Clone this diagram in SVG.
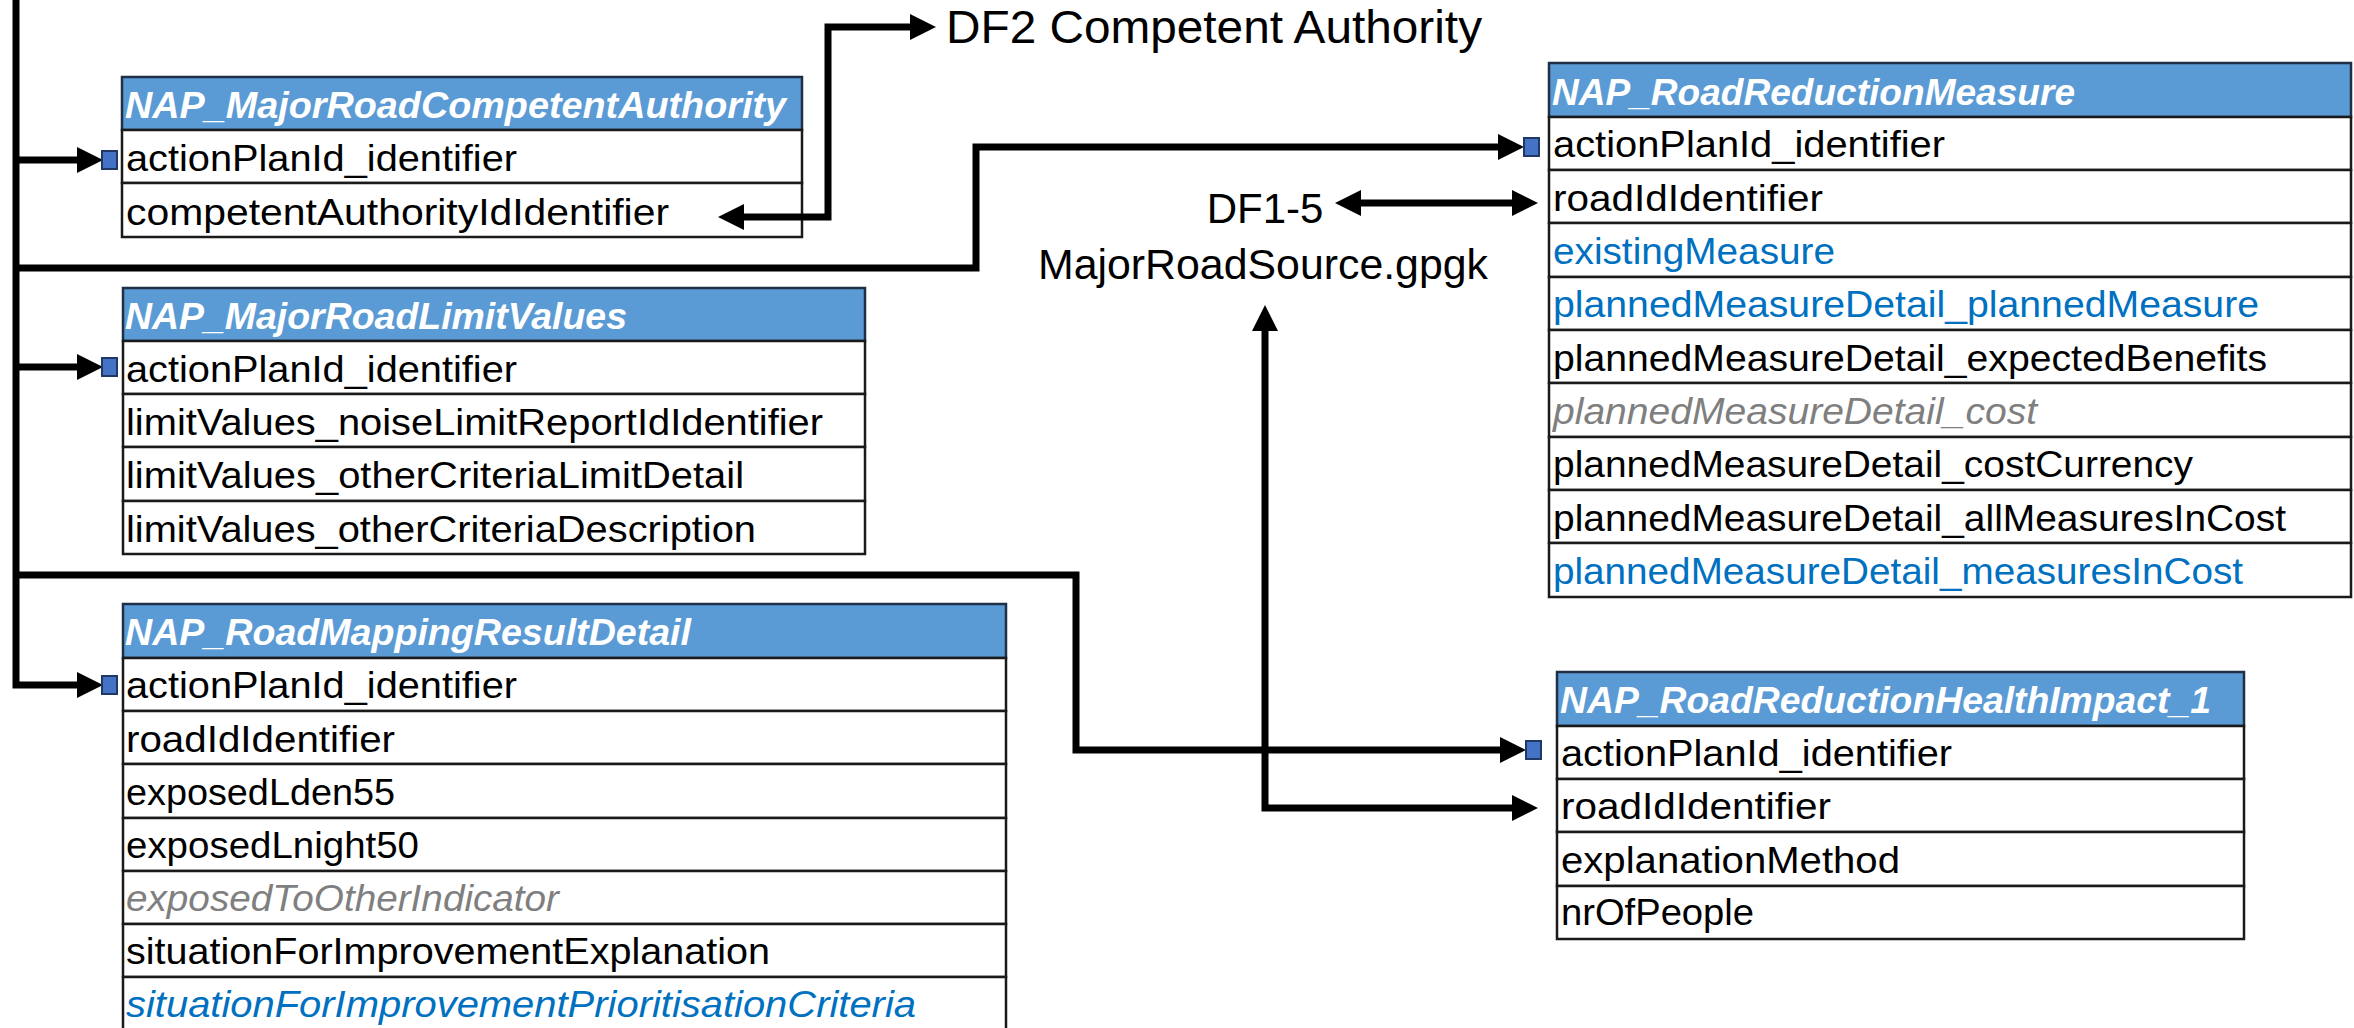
<svg xmlns="http://www.w3.org/2000/svg" width="2354" height="1028" viewBox="0 0 2354 1028">
<style>
.hdr{fill:#5B9BD5;stroke:#1F2F45;stroke-width:2.5}
.row{fill:#FFFFFF;stroke:#1A1A1A;stroke-width:2.5}
.t{font-family:"Liberation Sans",Arial,sans-serif;font-size:37px;fill:#000}
.h{font-family:"Liberation Sans",Arial,sans-serif;font-size:36px;font-weight:bold;font-style:italic;fill:#FFFFFF}
.b{fill:#0070C0}
.g{fill:#7F7F7F;font-style:italic}
.lbl{font-family:"Liberation Sans",Arial,sans-serif;font-size:46px;fill:#000}
.lbl2{font-family:"Liberation Sans",Arial,sans-serif;font-size:42px;fill:#000;text-anchor:middle}
.key{fill:#4472C4;stroke:#1F3864;stroke-width:2}
.con{fill:none;stroke:#000;stroke-width:7;stroke-linejoin:miter}
</style>
<defs>
<marker id="ah" markerUnits="userSpaceOnUse" markerWidth="26" markerHeight="26" refX="12" refY="12" orient="auto-start-reverse" viewBox="0 0 24 24">
<path d="M0,0 L24,12 L0,24 z" fill="#000"/>
</marker>
</defs>

<g id="df2-label">
<text class="lbl" x="946" y="43" textLength="536" lengthAdjust="spacingAndGlyphs">DF2 Competent Authority</text>
</g>

<g id="df1-5-label">
<text class="lbl2" x="1265" y="223">DF1-5</text>
<text class="lbl2" x="1263" y="279" textLength="450" lengthAdjust="spacingAndGlyphs">MajorRoadSource.gpgk</text>
</g>

<g id="nap-major-road-competent-authority">
<rect class="hdr" x="122" y="77" width="680" height="53"/>
<rect class="row" x="122" y="130" width="680" height="53"/>
<rect class="row" x="122" y="183" width="680" height="54"/>
<text class="h" x="125" y="118" textLength="661" lengthAdjust="spacingAndGlyphs">NAP_MajorRoadCompetentAuthority</text>
<text class="t" x="126" y="171" textLength="391" lengthAdjust="spacingAndGlyphs">actionPlanId_identifier</text>
<text class="t" x="126" y="225" textLength="543" lengthAdjust="spacingAndGlyphs">competentAuthorityIdIdentifier</text>
</g>

<g id="nap-major-road-limit-values">
<rect class="hdr" x="123" y="288" width="742" height="53"/>
<rect class="row" x="123" y="341" width="742" height="53"/>
<rect class="row" x="123" y="394" width="742" height="53"/>
<rect class="row" x="123" y="447" width="742" height="54"/>
<rect class="row" x="123" y="501" width="742" height="53"/>
<text class="h" x="125" y="329" textLength="502" lengthAdjust="spacingAndGlyphs">NAP_MajorRoadLimitValues</text>
<text class="t" x="126" y="382" textLength="391" lengthAdjust="spacingAndGlyphs">actionPlanId_identifier</text>
<text class="t" x="126" y="435" textLength="697" lengthAdjust="spacingAndGlyphs">limitValues_noiseLimitReportIdIdentifier</text>
<text class="t" x="126" y="488" textLength="618" lengthAdjust="spacingAndGlyphs">limitValues_otherCriteriaLimitDetail</text>
<text class="t" x="126" y="542" textLength="630" lengthAdjust="spacingAndGlyphs">limitValues_otherCriteriaDescription</text>
</g>

<g id="nap-road-mapping-result-detail">
<rect class="hdr" x="123" y="604" width="883" height="54"/>
<rect class="row" x="123" y="658" width="883" height="53"/>
<rect class="row" x="123" y="711" width="883" height="53"/>
<rect class="row" x="123" y="764" width="883" height="54"/>
<rect class="row" x="123" y="818" width="883" height="53"/>
<rect class="row" x="123" y="871" width="883" height="53"/>
<rect class="row" x="123" y="924" width="883" height="53"/>
<rect class="row" x="123" y="977" width="883" height="56"/>
<text class="h" x="125" y="645" textLength="566" lengthAdjust="spacingAndGlyphs">NAP_RoadMappingResultDetail</text>
<text class="t" x="126" y="698" textLength="391" lengthAdjust="spacingAndGlyphs">actionPlanId_identifier</text>
<text class="t" x="126" y="752" textLength="269" lengthAdjust="spacingAndGlyphs">roadIdIdentifier</text>
<text class="t" x="126" y="805" textLength="269" lengthAdjust="spacingAndGlyphs">exposedLden55</text>
<text class="t" x="126" y="858" textLength="293" lengthAdjust="spacingAndGlyphs">exposedLnight50</text>
<text class="t g" x="126" y="911" textLength="433" lengthAdjust="spacingAndGlyphs">exposedToOtherIndicator</text>
<text class="t" x="126" y="964" textLength="644" lengthAdjust="spacingAndGlyphs">situationForImprovementExplanation</text>
<text class="t b" x="126" y="1017" textLength="790" lengthAdjust="spacingAndGlyphs" font-style="italic">situationForImprovementPrioritisationCriteria</text>
</g>

<g id="nap-road-reduction-measure">
<rect class="hdr" x="1549" y="63" width="802" height="54"/>
<rect class="row" x="1549" y="117" width="802" height="53"/>
<rect class="row" x="1549" y="170" width="802" height="53"/>
<rect class="row" x="1549" y="223" width="802" height="54"/>
<rect class="row" x="1549" y="277" width="802" height="53"/>
<rect class="row" x="1549" y="330" width="802" height="53"/>
<rect class="row" x="1549" y="383" width="802" height="54"/>
<rect class="row" x="1549" y="437" width="802" height="53"/>
<rect class="row" x="1549" y="490" width="802" height="53"/>
<rect class="row" x="1549" y="543" width="802" height="54"/>
<text class="h" x="1552" y="105" textLength="523" lengthAdjust="spacingAndGlyphs">NAP_RoadReductionMeasure</text>
<text class="t" x="1553" y="157" textLength="392" lengthAdjust="spacingAndGlyphs">actionPlanId_identifier</text>
<text class="t" x="1553" y="211" textLength="270" lengthAdjust="spacingAndGlyphs">roadIdIdentifier</text>
<text class="t b" x="1553" y="264" textLength="282" lengthAdjust="spacingAndGlyphs">existingMeasure</text>
<text class="t b" x="1553" y="317" textLength="706" lengthAdjust="spacingAndGlyphs">plannedMeasureDetail_plannedMeasure</text>
<text class="t" x="1553" y="371" textLength="714" lengthAdjust="spacingAndGlyphs">plannedMeasureDetail_expectedBenefits</text>
<text class="t g" x="1553" y="424" textLength="484" lengthAdjust="spacingAndGlyphs">plannedMeasureDetail_cost</text>
<text class="t" x="1553" y="477" textLength="640" lengthAdjust="spacingAndGlyphs">plannedMeasureDetail_costCurrency</text>
<text class="t" x="1553" y="531" textLength="733" lengthAdjust="spacingAndGlyphs">plannedMeasureDetail_allMeasuresInCost</text>
<text class="t b" x="1553" y="584" textLength="690" lengthAdjust="spacingAndGlyphs">plannedMeasureDetail_measuresInCost</text>
</g>

<g id="nap-road-reduction-health-impact-1">
<rect class="hdr" x="1557" y="672" width="687" height="54"/>
<rect class="row" x="1557" y="726" width="687" height="53"/>
<rect class="row" x="1557" y="779" width="687" height="53"/>
<rect class="row" x="1557" y="832" width="687" height="54"/>
<rect class="row" x="1557" y="886" width="687" height="53"/>
<text class="h" x="1560" y="713" textLength="651" lengthAdjust="spacingAndGlyphs">NAP_RoadReductionHealthImpact_1</text>
<text class="t" x="1561" y="766" textLength="391" lengthAdjust="spacingAndGlyphs">actionPlanId_identifier</text>
<text class="t" x="1561" y="819" textLength="270" lengthAdjust="spacingAndGlyphs">roadIdIdentifier</text>
<text class="t" x="1561" y="873" textLength="339" lengthAdjust="spacingAndGlyphs">explanationMethod</text>
<text class="t" x="1561" y="925" textLength="193" lengthAdjust="spacingAndGlyphs">nrOfPeople</text>
</g>

<g id="connectors">
<path class="con" d="M16,0 V685 H90" marker-end="url(#ah)"/>
<path class="con" d="M16,160 H90" marker-end="url(#ah)"/>
<path class="con" d="M16,367 H90" marker-end="url(#ah)"/>
<path class="con" d="M16,268 H976 V147 H1511" marker-end="url(#ah)"/>
<path class="con" d="M16,575 H1076 V750 H1513" marker-end="url(#ah)"/>
<path class="con" d="M731,217 H828 V27 H923" marker-start="url(#ah)" marker-end="url(#ah)"/>
<path class="con" d="M1348,203 H1525" marker-start="url(#ah)" marker-end="url(#ah)"/>
<path class="con" d="M1265,318 V808 H1525" marker-start="url(#ah)" marker-end="url(#ah)"/>
<rect class="key" x="102" y="151" width="15" height="18"/>
<rect class="key" x="102" y="358" width="15" height="18"/>
<rect class="key" x="102" y="676" width="15" height="18"/>
<rect class="key" x="1524" y="138" width="15" height="18"/>
<rect class="key" x="1526" y="741" width="15" height="18"/>
</g>
</svg>
